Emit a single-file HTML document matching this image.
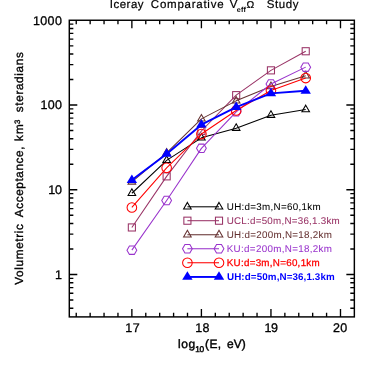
<!DOCTYPE html><html><head><meta charset="utf-8"><style>html,body{margin:0;padding:0;background:#fff}svg{display:block;will-change:transform;opacity:0.999}text{font-family:"Liberation Sans",sans-serif;white-space:pre;text-rendering:geometricPrecision}</style></head><body>
<svg width="374" height="374" viewBox="0 0 374 374">
<rect width="374" height="374" fill="#fff"/>
<path d="M76.24 316.9v-4.05M76.24 20.25v4.05M90.15 316.9v-4.05M90.15 20.25v4.05M104.05 316.9v-4.05M104.05 20.25v4.05M117.96 316.9v-4.05M117.96 20.25v4.05M131.87 316.9v-8.0M131.87 20.25v8.0M145.78 316.9v-4.05M145.78 20.25v4.05M159.69 316.9v-4.05M159.69 20.25v4.05M173.59 316.9v-4.05M173.59 20.25v4.05M187.50 316.9v-4.05M187.50 20.25v4.05M201.41 316.9v-8.0M201.41 20.25v8.0M215.32 316.9v-4.05M215.32 20.25v4.05M229.23 316.9v-4.05M229.23 20.25v4.05M243.13 316.9v-4.05M243.13 20.25v4.05M257.04 316.9v-4.05M257.04 20.25v4.05M270.95 316.9v-8.0M270.95 20.25v8.0M284.86 316.9v-4.05M284.86 20.25v4.05M298.77 316.9v-4.05M298.77 20.25v4.05M312.67 316.9v-4.05M312.67 20.25v4.05M326.58 316.9v-4.05M326.58 20.25v4.05M340.49 316.9v-8.0M340.49 20.25v8.0M69.3 308.21h4.05M354.35 308.21h-4.05M69.3 300.00h4.05M354.35 300.00h-4.05M69.3 293.29h4.05M354.35 293.29h-4.05M69.3 287.61h4.05M354.35 287.61h-4.05M69.3 282.70h4.05M354.35 282.70h-4.05M69.3 278.37h4.05M354.35 278.37h-4.05M69.3 274.49h8.0M354.35 274.49h-8.0M69.3 248.98h4.05M354.35 248.98h-4.05M69.3 234.06h4.05M354.35 234.06h-4.05M69.3 223.48h4.05M354.35 223.48h-4.05M69.3 215.27h4.05M354.35 215.27h-4.05M69.3 208.56h4.05M354.35 208.56h-4.05M69.3 202.88h4.05M354.35 202.88h-4.05M69.3 197.97h4.05M354.35 197.97h-4.05M69.3 193.64h4.05M354.35 193.64h-4.05M69.3 189.76h8.0M354.35 189.76h-8.0M69.3 164.25h4.05M354.35 164.25h-4.05M69.3 149.33h4.05M354.35 149.33h-4.05M69.3 138.75h4.05M354.35 138.75h-4.05M69.3 130.54h4.05M354.35 130.54h-4.05M69.3 123.83h4.05M354.35 123.83h-4.05M69.3 118.15h4.05M354.35 118.15h-4.05M69.3 113.24h4.05M354.35 113.24h-4.05M69.3 108.91h4.05M354.35 108.91h-4.05M69.3 105.03h8.0M354.35 105.03h-8.0M69.3 79.52h4.05M354.35 79.52h-4.05M69.3 64.60h4.05M354.35 64.60h-4.05M69.3 54.02h4.05M354.35 54.02h-4.05M69.3 45.81h4.05M354.35 45.81h-4.05M69.3 39.10h4.05M354.35 39.10h-4.05M69.3 33.42h4.05M354.35 33.42h-4.05M69.3 28.51h4.05M354.35 28.51h-4.05M69.3 24.18h4.05M354.35 24.18h-4.05" stroke="#000" stroke-width="1.35" fill="none"/>
<rect x="69.3" y="20.25" width="285.05" height="296.65" fill="none" stroke="#000" stroke-width="1.45"/>
<polyline points="131.87,193.25 166.64,160.35 201.41,137.85 236.18,128.15 270.95,115.15 305.72,109.55" fill="none" stroke="#000000" stroke-width="1.05" stroke-linejoin="round"/>
<path d="M131.87 188.85L135.67 195.45L128.07 195.45Z" fill="none" stroke="#000000" stroke-width="1.05"/>
<path d="M166.64 155.95L170.44 162.55L162.84 162.55Z" fill="none" stroke="#000000" stroke-width="1.05"/>
<path d="M201.41 133.45L205.21 140.05L197.61 140.05Z" fill="none" stroke="#000000" stroke-width="1.05"/>
<path d="M236.18 123.75L239.98 130.35L232.38 130.35Z" fill="none" stroke="#000000" stroke-width="1.05"/>
<path d="M270.95 110.75L274.75 117.35L267.15 117.35Z" fill="none" stroke="#000000" stroke-width="1.05"/>
<path d="M305.72 105.15L309.52 111.75L301.92 111.75Z" fill="none" stroke="#000000" stroke-width="1.05"/>
<path d="M187.4 206.8H219" stroke="#000000" stroke-width="1.05" fill="none"/>
<path d="M187.40 202.40L191.20 209.00L183.60 209.00Z" fill="none" stroke="#000000" stroke-width="1.05"/>
<path d="M219.00 202.40L222.80 209.00L215.20 209.00Z" fill="none" stroke="#000000" stroke-width="1.05"/>
<polyline points="131.87,227.45 166.64,176.35 201.41,131.00 236.18,95.15 270.95,70.35 305.72,51.25" fill="none" stroke="#993366" stroke-width="1.05" stroke-linejoin="round"/>
<rect x="128.32" y="223.90" width="7.1" height="7.1" fill="none" stroke="#993366" stroke-width="1.05"/>
<rect x="163.09" y="172.80" width="7.1" height="7.1" fill="none" stroke="#993366" stroke-width="1.05"/>
<rect x="197.86" y="127.45" width="7.1" height="7.1" fill="none" stroke="#993366" stroke-width="1.05"/>
<rect x="232.63" y="91.60" width="7.1" height="7.1" fill="none" stroke="#993366" stroke-width="1.05"/>
<rect x="267.40" y="66.80" width="7.1" height="7.1" fill="none" stroke="#993366" stroke-width="1.05"/>
<rect x="302.17" y="47.70" width="7.1" height="7.1" fill="none" stroke="#993366" stroke-width="1.05"/>
<path d="M187.4 220.7H219" stroke="#993366" stroke-width="1.05" fill="none"/>
<rect x="183.85" y="217.15" width="7.1" height="7.1" fill="none" stroke="#993366" stroke-width="1.05"/>
<rect x="215.45" y="217.15" width="7.1" height="7.1" fill="none" stroke="#993366" stroke-width="1.05"/>
<polyline points="131.87,181.90 166.64,152.95 201.41,118.85 236.18,100.85 270.95,86.40 305.72,75.70" fill="none" stroke="#663333" stroke-width="1.05" stroke-linejoin="round"/>
<path d="M131.87 177.50L135.67 184.10L128.07 184.10Z" fill="none" stroke="#663333" stroke-width="1.05"/>
<path d="M166.64 148.55L170.44 155.15L162.84 155.15Z" fill="none" stroke="#663333" stroke-width="1.05"/>
<path d="M201.41 114.45L205.21 121.05L197.61 121.05Z" fill="none" stroke="#663333" stroke-width="1.05"/>
<path d="M236.18 96.45L239.98 103.05L232.38 103.05Z" fill="none" stroke="#663333" stroke-width="1.05"/>
<path d="M270.95 82.00L274.75 88.60L267.15 88.60Z" fill="none" stroke="#663333" stroke-width="1.05"/>
<path d="M305.72 71.30L309.52 77.90L301.92 77.90Z" fill="none" stroke="#663333" stroke-width="1.05"/>
<path d="M187.4 234.75H219" stroke="#663333" stroke-width="1.05" fill="none"/>
<path d="M187.40 230.35L191.20 236.95L183.60 236.95Z" fill="none" stroke="#663333" stroke-width="1.05"/>
<path d="M219.00 230.35L222.80 236.95L215.20 236.95Z" fill="none" stroke="#663333" stroke-width="1.05"/>
<polyline points="131.87,250.15 166.64,200.45 201.41,148.35 236.18,111.85 270.95,84.00 305.72,67.15" fill="none" stroke="#9933CC" stroke-width="1.05" stroke-linejoin="round"/>
<polygon points="136.77,250.15 134.32,254.39 129.42,254.39 126.97,250.15 129.42,245.91 134.32,245.91" fill="none" stroke="#9933CC" stroke-width="1.05"/>
<polygon points="171.54,200.45 169.09,204.69 164.19,204.69 161.74,200.45 164.19,196.21 169.09,196.21" fill="none" stroke="#9933CC" stroke-width="1.05"/>
<polygon points="206.31,148.35 203.86,152.59 198.96,152.59 196.51,148.35 198.96,144.11 203.86,144.11" fill="none" stroke="#9933CC" stroke-width="1.05"/>
<polygon points="241.08,111.85 238.63,116.09 233.73,116.09 231.28,111.85 233.73,107.61 238.63,107.61" fill="none" stroke="#9933CC" stroke-width="1.05"/>
<polygon points="275.85,84.00 273.40,88.24 268.50,88.24 266.05,84.00 268.50,79.76 273.40,79.76" fill="none" stroke="#9933CC" stroke-width="1.05"/>
<polygon points="310.62,67.15 308.17,71.39 303.27,71.39 300.82,67.15 303.27,62.91 308.17,62.91" fill="none" stroke="#9933CC" stroke-width="1.05"/>
<path d="M187.4 248.75H219" stroke="#9933CC" stroke-width="1.05" fill="none"/>
<polygon points="192.30,248.75 189.85,252.99 184.95,252.99 182.50,248.75 184.95,244.51 189.85,244.51" fill="none" stroke="#9933CC" stroke-width="1.05"/>
<polygon points="223.90,248.75 221.45,252.99 216.55,252.99 214.10,248.75 216.55,244.51 221.45,244.51" fill="none" stroke="#9933CC" stroke-width="1.05"/>
<polyline points="131.87,207.45 166.64,167.85 201.41,134.05 236.18,110.45 270.95,90.55 305.72,78.05" fill="none" stroke="#FF0000" stroke-width="1.05" stroke-linejoin="round"/>
<circle cx="131.87" cy="207.45" r="4.8" fill="none" stroke="#FF0000" stroke-width="1.05"/>
<circle cx="166.64" cy="167.85" r="4.8" fill="none" stroke="#FF0000" stroke-width="1.05"/>
<circle cx="201.41" cy="134.05" r="4.8" fill="none" stroke="#FF0000" stroke-width="1.05"/>
<circle cx="236.18" cy="110.45" r="4.8" fill="none" stroke="#FF0000" stroke-width="1.05"/>
<circle cx="270.95" cy="90.55" r="4.8" fill="none" stroke="#FF0000" stroke-width="1.05"/>
<circle cx="305.72" cy="78.05" r="4.8" fill="none" stroke="#FF0000" stroke-width="1.05"/>
<path d="M187.4 262.75H219" stroke="#FF0000" stroke-width="1.05" fill="none"/>
<circle cx="187.40" cy="262.75" r="4.8" fill="none" stroke="#FF0000" stroke-width="1.05"/>
<circle cx="219.00" cy="262.75" r="4.8" fill="none" stroke="#FF0000" stroke-width="1.05"/>
<polyline points="131.87,180.10 166.64,153.90 201.41,124.70 236.18,107.20 270.95,93.40 305.72,90.80" fill="none" stroke="#0000FF" stroke-width="1.9" stroke-linejoin="round"/>
<path d="M131.87 174.50L137.07 183.00L126.67 183.00Z" fill="#0000FF" stroke="none"/>
<path d="M166.64 148.30L171.84 156.80L161.44 156.80Z" fill="#0000FF" stroke="none"/>
<path d="M201.41 119.10L206.61 127.60L196.21 127.60Z" fill="#0000FF" stroke="none"/>
<path d="M236.18 101.60L241.38 110.10L230.98 110.10Z" fill="#0000FF" stroke="none"/>
<path d="M270.95 87.80L276.15 96.30L265.75 96.30Z" fill="#0000FF" stroke="none"/>
<path d="M305.72 85.20L310.92 93.70L300.52 93.70Z" fill="#0000FF" stroke="none"/>
<path d="M187.4 276.95H219" stroke="#0000FF" stroke-width="1.9" fill="none"/>
<path d="M187.40 271.35L192.60 279.85L182.20 279.85Z" fill="#0000FF" stroke="none"/>
<path d="M219.00 271.35L224.20 279.85L213.80 279.85Z" fill="#0000FF" stroke="none"/>
<text x="226.75" y="209.60" font-size="9.8" font-weight="normal" fill="#000000" stroke="#000000" stroke-width="0.05" textLength="93.95" lengthAdjust="spacing">UH:d=3m,N=60,1km</text>
<text x="226.75" y="223.50" font-size="9.8" font-weight="normal" fill="#993366" stroke="#993366" stroke-width="0.05" textLength="112.95" lengthAdjust="spacing">UCL:d=50m,N=36,1.3km</text>
<text x="226.75" y="237.55" font-size="9.8" font-weight="normal" fill="#663333" stroke="#663333" stroke-width="0.05" textLength="105.20" lengthAdjust="spacing">UH:d=200m,N=18,2km</text>
<text x="226.75" y="251.55" font-size="9.8" font-weight="normal" fill="#9933CC" stroke="#9933CC" stroke-width="0.05" textLength="105.20" lengthAdjust="spacing">KU:d=200m,N=18,2km</text>
<text x="226.75" y="265.55" font-size="9.8" font-weight="normal" fill="#FF0000" stroke="#FF0000" stroke-width="0.28" textLength="92.95" lengthAdjust="spacing">KU:d=3m,N=60,1km</text>
<text x="227.00" y="279.75" font-size="9.8" font-weight="bold" fill="#0000FF" stroke="#0000FF" stroke-width="0.0" textLength="107.70" lengthAdjust="spacing">UH:d=50m,N=36,1.3km</text>
<text x="33.00" y="24.50" font-size="12.5" font-weight="normal" fill="#000" stroke="#000" stroke-width="0.3" textLength="28.85" lengthAdjust="spacing">1000</text>
<text x="40.50" y="109.30" font-size="12.5" font-weight="normal" fill="#000" stroke="#000" stroke-width="0.3" textLength="21.35" lengthAdjust="spacing">100</text>
<text x="48.25" y="194.10" font-size="12.5" font-weight="normal" fill="#000" stroke="#000" stroke-width="0.3" textLength="13.60" lengthAdjust="spacing">10</text>
<text x="54.90" y="278.80" font-size="12.5" font-weight="normal" fill="#000" stroke="#000" stroke-width="0.3">1</text>
<text x="125.25" y="331.90" font-size="12.5" font-weight="normal" fill="#000" stroke="#000" stroke-width="0.3" textLength="14.35" lengthAdjust="spacing">17</text>
<text x="195.25" y="331.90" font-size="12.5" font-weight="normal" fill="#000" stroke="#000" stroke-width="0.3" textLength="14.10" lengthAdjust="spacing">18</text>
<text x="264.50" y="331.90" font-size="12.5" font-weight="normal" fill="#000" stroke="#000" stroke-width="0.3" textLength="13.35" lengthAdjust="spacing">19</text>
<text x="333.00" y="331.90" font-size="12.5" font-weight="normal" fill="#000" stroke="#000" stroke-width="0.3" textLength="14.10" lengthAdjust="spacing">20</text>
<text x="109.85" y="8.10" font-size="11.5" font-weight="normal" fill="#000" stroke="#000" stroke-width="0.2" textLength="33.70" lengthAdjust="spacing">Iceray</text>
<text x="150.85" y="8.10" font-size="11.5" font-weight="normal" fill="#000" stroke="#000" stroke-width="0.2" textLength="72.70" lengthAdjust="spacing">Comparative</text>
<text x="229.75" y="8.10" font-size="11.5" font-weight="normal" fill="#000" stroke="#000" stroke-width="0.2">V</text>
<text x="236.80" y="11.80" font-size="7.2" font-weight="bold" fill="#000" stroke="#000" stroke-width="0.0" textLength="9.10" lengthAdjust="spacing">eff</text>
<text x="246.50" y="8.10" font-size="10.0" font-weight="normal" fill="#000" stroke="#000" stroke-width="0.2" textLength="7.75" lengthAdjust="spacingAndGlyphs">Ω</text>
<text x="266.70" y="8.10" font-size="11.5" font-weight="normal" fill="#000" stroke="#000" stroke-width="0.2" textLength="31.70" lengthAdjust="spacing">Study</text>
<text x="178.00" y="348.10" font-size="12" font-weight="normal" fill="#000" stroke="#000" stroke-width="0.4" textLength="17.10" lengthAdjust="spacing">log</text>
<text x="195.35" y="351.80" font-size="8.3" font-weight="normal" fill="#000" stroke="#000" stroke-width="0.45" textLength="8.70" lengthAdjust="spacing">10</text>
<text x="205.05" y="348.10" font-size="12" font-weight="normal" fill="#000" stroke="#000" stroke-width="0.4" textLength="16.10" lengthAdjust="spacing">(E,</text>
<text x="227.05" y="348.10" font-size="12" font-weight="normal" fill="#000" stroke="#000" stroke-width="0.4" textLength="18.60" lengthAdjust="spacing">eV)</text>
<text transform="translate(23.10 284.75) rotate(-90)" font-size="11.7" font-weight="normal" fill="#000" stroke="#000" stroke-width="0.33" textLength="60.70" lengthAdjust="spacing">Volumetric</text>
<text transform="translate(23.10 217.20) rotate(-90)" font-size="11.7" font-weight="normal" fill="#000" stroke="#000" stroke-width="0.33" textLength="70.60" lengthAdjust="spacing">Acceptance,</text>
<text transform="translate(23.10 141.05) rotate(-90)" font-size="11.7" font-weight="normal" fill="#000" stroke="#000" stroke-width="0.33" textLength="16.75" lengthAdjust="spacing">km</text>
<text transform="translate(19.60 124.05) rotate(-90)" font-size="7.8" font-weight="normal" fill="#000" stroke="#000" stroke-width="0.33">3</text>
<text transform="translate(23.10 112.20) rotate(-90)" font-size="11.7" font-weight="normal" fill="#000" stroke="#000" stroke-width="0.33" textLength="59.95" lengthAdjust="spacing">steradians</text>
</svg></body></html>
